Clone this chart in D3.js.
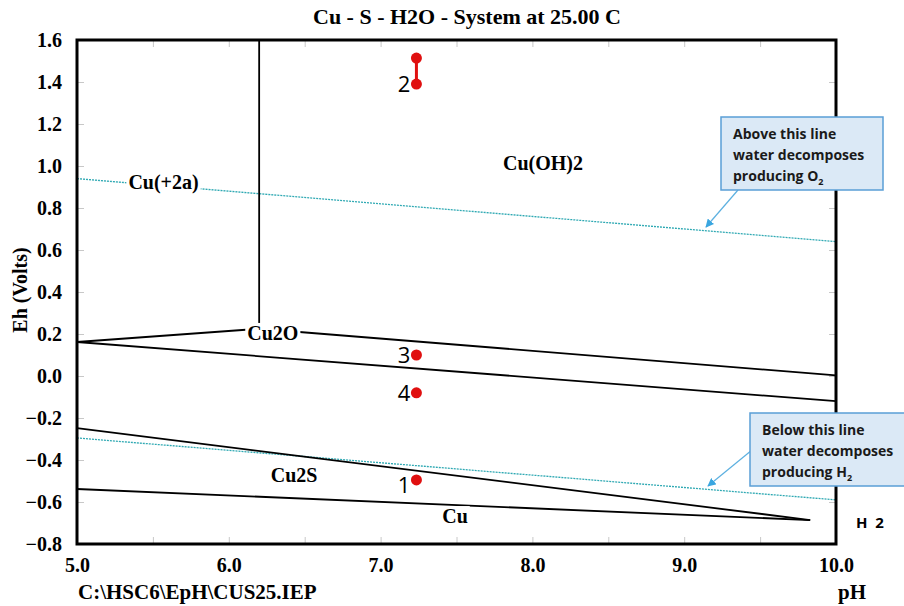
<!DOCTYPE html>
<html>
<head>
<meta charset="utf-8">
<script src="https://cdn.jsdelivr.net/npm/d3@7"></script>
<style>
  body { margin: 0; background: #fff; }
  svg { display: block; }
  .serif { font-family: "Liberation Serif", "Times New Roman", serif; font-weight: bold; }
</style>
</head>
<body>
<div id="chart-container"></div>
<script>
// axis ticks
const phTicks = [5, 6, 7, 8, 9, 10]
const phMinorTicks = [5, 5.5, 6, 6.5, 7, 7.5, 8, 8.5, 9, 9.5, 10]
const ehTicks = [-0.8, -0.6, -0.4, -0.2, 0, 0.2, 0.4, 0.6, 0.8, 1.0, 1.2, 1.4, 1.6]

// stability boundaries [pH, Eh]
const cuOhBoundary = [[6.2, 1.6], [6.2, 0.225]]
const cu2oUpper = [[5.0, 0.162], [6.2, 0.225], [10.0, 0.003]]
const cu2oLower = [[5.0, 0.162], [10.0, -0.12]]
const cu2sUpper = [[5.0, -0.248], [9.83, -0.686]]
const cu2sLower = [[5.0, -0.538], [9.83, -0.686]]

// water stability lines
const waterO2 = [[5.0, 0.94], [10.0, 0.64]]
const waterH2 = [[5.0, -0.295], [10.0, -0.59]]

// species labels
const speciesNames = ['Cu(+2a)', 'Cu(OH)2', 'Cu2O', 'Cu2S', 'Cu']
const speciesPh = [5.57, 8.07, 6.29, 6.43, 7.49]
const speciesEh = [0.922, 1.012, 0.205, -0.473, -0.667]

// sample points
const sampleIds = ['2', '2', '3', '4', '1']
const samplePh = [7.236, 7.236, 7.236, 7.236, 7.236]
const sampleEh = [1.514, 1.39, 0.10, -0.08, -0.495]

const width = 904
const height = 606
const margin = {left: 77, top: 40, right: 68, bottom: 62}

const x = d3.scaleLinear().domain([5, 10]).range([margin.left, width - margin.right])
const y = d3.scaleLinear().domain([-0.8, 1.6]).range([height - margin.bottom, margin.top])

const svg = d3.select('#chart-container')
  .append('svg')
  .attr('width', width)
  .attr('height', height)

// title
svg.append('text')
  .attr('class', 'serif')
  .attr('x', 467)
  .attr('y', 24)
  .attr('text-anchor', 'middle')
  .attr('font-size', 22)
  .text('Cu - S - H2O - System at 25.00 C')

// minor tick marks inside the frame
const tickGrey = g => g.call(s => s.select('.domain').remove())
  .call(s => s.selectAll('.tick line').attr('stroke', '#c8c8c8'))
  .call(s => s.selectAll('.tick text').remove())

svg.append('g')
  .attr('transform', `translate(0, ${y(-0.8)})`)
  .call(d3.axisBottom(x).tickValues(phMinorTicks).tickSize(-7))
  .call(tickGrey)
svg.append('g')
  .attr('transform', `translate(0, ${y(1.6)})`)
  .call(d3.axisTop(x).tickValues(phMinorTicks).tickSize(-7))
  .call(tickGrey)
svg.append('g')
  .attr('transform', `translate(${x(5)}, 0)`)
  .call(d3.axisLeft(y).tickValues(ehTicks).tickSize(-7))
  .call(tickGrey)
svg.append('g')
  .attr('transform', `translate(${x(10)}, 0)`)
  .call(d3.axisRight(y).tickValues(ehTicks).tickSize(-7))
  .call(tickGrey)

// tick labels
const labelAxis = g => g.call(s => s.select('.domain').remove())
  .call(s => s.selectAll('.tick line').remove())
  .call(s => s.selectAll('.tick text')
    .attr('class', 'serif')
    .attr('font-size', 20)
    .attr('fill', '#000'))

svg.append('g')
  .attr('transform', `translate(0, ${y(-0.8) + 11})`)
  .call(d3.axisBottom(x).tickValues(phTicks).tickSize(0).tickFormat(d3.format('.1f')))
  .call(labelAxis)
svg.append('g')
  .attr('transform', `translate(${x(5) - 12}, 0)`)
  .call(d3.axisLeft(y).tickValues(ehTicks).tickSize(0).tickFormat(d3.format('.1f')))
  .call(labelAxis)

// axis titles
svg.append('text')
  .attr('class', 'serif')
  .attr('font-size', 20)
  .attr('text-anchor', 'middle')
  .attr('transform', 'translate(27, 290) rotate(-90)')
  .text('Eh (Volts)')
svg.append('text')
  .attr('class', 'serif')
  .attr('font-size', 21)
  .attr('x', 78)
  .attr('y', 599)
  .text('C:\\HSC6\\EpH\\CUS25.IEP')
svg.append('text')
  .attr('class', 'serif')
  .attr('font-size', 21)
  .attr('x', 838)
  .attr('y', 599)
  .text('pH')
svg.append('text')
  .attr('font-family', '"Open Sans", sans-serif')
  .attr('font-weight', 'bold')
  .attr('font-size', 15)
  .attr('x', 856)
  .attr('y', 528)
  .attr('xml:space', 'preserve')
  .text('H  2')

const line = d3.line().x(d => x(d[0])).y(d => y(d[1]))

// water lines
svg.selectAll('.water')
  .data([waterO2, waterH2])
  .join('path')
  .attr('class', 'water')
  .attr('d', line)
  .attr('fill', 'none')
  .attr('stroke', '#2fa9b3')
  .attr('stroke-width', 1.3)
  .attr('stroke-dasharray', '2,1')

// boundaries
svg.selectAll('.boundary')
  .data([cuOhBoundary, cu2oUpper, cu2oLower, cu2sUpper, cu2sLower])
  .join('path')
  .attr('class', 'boundary')
  .attr('d', line)
  .attr('fill', 'none')
  .attr('stroke', '#000')
  .attr('stroke-width', 1.8)

// species labels with white backing
const species = speciesNames.map((n, i) => ({name: n, ph: speciesPh[i], eh: speciesEh[i]}))
const sg = svg.selectAll('.species')
  .data(species)
  .join('g')
  .attr('class', 'species')
sg.append('rect').attr('fill', '#fff')
sg.append('text')
  .attr('class', 'serif')
  .attr('font-size', 20)
  .attr('text-anchor', 'middle')
  .attr('x', d => x(d.ph))
  .attr('y', d => y(d.eh))
  .attr('dy', '0.35em')
  .text(d => d.name)
sg.each(function () {
  const b = d3.select(this).select('text').node().getBBox()
  d3.select(this).select('rect')
    .attr('x', b.x - 2).attr('y', b.y + 1)
    .attr('width', b.width + 4).attr('height', b.height - 2)
})

// frame
svg.append('rect')
  .attr('x', x(5))
  .attr('y', y(1.6))
  .attr('width', x(10) - x(5))
  .attr('height', y(-0.8) - y(1.6))
  .attr('fill', 'none')
  .attr('stroke', '#000')
  .attr('stroke-width', 3)

// sample points
const samples = sampleIds.map((id, i) => ({id, ph: samplePh[i], eh: sampleEh[i]}))
svg.append('path')
  .attr('d', line([[samplePh[0], sampleEh[0]], [samplePh[1], sampleEh[1]]]))
  .attr('stroke', '#e01010')
  .attr('stroke-width', 3)
svg.selectAll('.pt')
  .data(samples)
  .join('circle')
  .attr('class', 'pt')
  .attr('cx', d => x(d.ph))
  .attr('cy', d => y(d.eh))
  .attr('r', 5.5)
  .attr('fill', '#e01010')
svg.selectAll('.ptlabel')
  .data(samples.filter((d, i) => i !== 0))
  .join('text')
  .attr('class', 'ptlabel')
  .attr('font-family', '"Open Sans", sans-serif')
  .attr('font-size', 22)
  .attr('text-anchor', 'end')
  .attr('x', d => x(d.ph) - 6)
  .attr('y', d => y(d.eh) + (d.id === '1' ? 13 : 8))
  .text(d => d.id)

// callouts
svg.append('defs').append('marker')
  .attr('id', 'arrow')
  .attr('viewBox', '0 0 10 10')
  .attr('refX', 9).attr('refY', 5)
  .attr('markerWidth', 7).attr('markerHeight', 7)
  .attr('orient', 'auto')
  .append('path')
  .attr('d', 'M0,0 L10,5 L0,10 z')
  .attr('fill', '#3aa6e0')

const callouts = [
  {box: [721, 117, 162, 73], from: [738, 190], to: [706, 227], lines: ['Above this line', 'water decomposes', 'producing O'], sub: '2'},
  {box: [750, 413, 160, 73], from: [752, 450], to: [708, 486], lines: ['Below this line', 'water decomposes', 'producing H'], sub: '2'}
]
callouts.forEach(c => {
  svg.append('line')
    .attr('x1', c.from[0]).attr('y1', c.from[1])
    .attr('x2', c.to[0]).attr('y2', c.to[1])
    .attr('stroke', '#5cb0e0')
    .attr('stroke-width', 1.2)
    .attr('marker-end', 'url(#arrow)')
  svg.append('rect')
    .attr('x', c.box[0]).attr('y', c.box[1])
    .attr('width', c.box[2]).attr('height', c.box[3])
    .attr('fill', '#dbe9f6')
    .attr('stroke', '#5a9ed6')
    .attr('stroke-width', 1.5)
  const t = svg.append('text')
    .attr('font-family', '"Open Sans", sans-serif')
    .attr('font-weight', 'bold')
    .attr('font-size', 14)
    .attr('fill', '#1a1a1a')
  c.lines.forEach((l, i) => {
    t.append('tspan')
      .attr('x', c.box[0] + 12)
      .attr('y', c.box[1] + 22 + i * 21)
      .text(l)
    if (i === 2) {
      t.append('tspan')
        .attr('font-size', 9)
        .attr('dy', 4)
        .text(c.sub)
    }
  })
})
</script>
</body>
</html>
